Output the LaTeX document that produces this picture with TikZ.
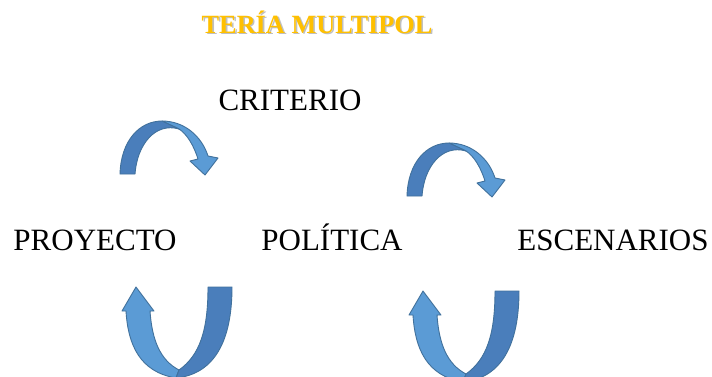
\documentclass[tikz,border=0pt]{standalone}
\usepackage{fontspec}
\setmainfont{Liberation Serif}
\definecolor{gold}{HTML}{FFC000}
\definecolor{lightblue}{HTML}{5B9BD5}
\definecolor{darkblue}{HTML}{4A7EBB}
\definecolor{edgeblue}{HTML}{41719C}
\newcommand{\shadowtitle}[1]{\makebox[0pt][l]{\hspace{1.6pt}\raisebox{-1.6pt}{\color{black!25}#1}}{\color{gold}#1}}
\tikzset{
  label/.style={anchor=base, inner sep=0pt, font=\fontsize{31}{37}\selectfont},
  titletext/.style={anchor=base, inner sep=0pt, font=\fontsize{26.3}{30}\selectfont\bfseries},
  lightpart/.style={fill=lightblue, draw=edgeblue, line width=0.9pt, line join=round},
  darkpart/.style={fill=darkblue, draw=edgeblue, line width=0.9pt, line join=round},
}
\begin{document}
\begin{tikzpicture}[x=1pt,y=-1pt]
\useasboundingbox[fill=white] (0,0) rectangle (712,376);
\clip (0,0) rectangle (712,376);
% title
\node[titletext] (title) at (317,33) {\shadowtitle{TERÍA MULTIPOL}};
% labels
\node[label] (criterio) at (290,110) {CRITERIO};
\node[label] (proyecto) at (95,250) {PROYECTO};
\node[label] (politica) at (332,250) {POLÍTICA};
\node[label] (escenarios) at (613,250) {ESCENARIOS};
% top arrows
\foreach \dx/\dy in {0/0, 287/22}{
\begin{scope}[shift={(\dx,\dy)}]
\path[lightpart] (162,121) .. controls (185,121) and (202,137) .. (208,156)
  -- (218,158) -- (205,175) -- (190,161) -- (198,159)
  .. controls (194,146) and (187,134) .. (179,129) -- cycle;
\path[darkpart] (120,174) .. controls (121,140) and (140,121) .. (162,121)
  -- (179,129) .. controls (155,122) and (137,145) .. (135,174) -- cycle;
\end{scope}}
% bottom arrows
\foreach \dx/\dy in {0/0, 287/4}{
\begin{scope}[shift={(\dx,\dy)}]
\path[lightpart] (126,311) .. controls (128,345) and (140,372) .. (176,378)
  -- (179,370) .. controls (160,360) and (152,340) .. (150,311)
  -- (154,311) -- (136,287) -- (122,311) -- cycle;
\path[darkpart] (208,287) -- (232,287) .. controls (232,340) and (215,374) .. (176,378)
  -- (179,370) .. controls (200,355) and (208,330) .. (208,287) -- cycle;
\end{scope}}
\end{tikzpicture}
\end{document}
